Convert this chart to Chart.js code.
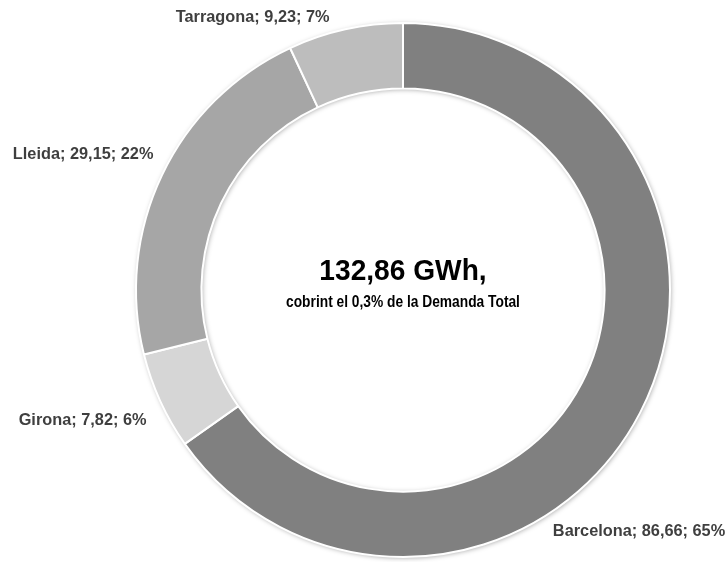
<!DOCTYPE html>
<html>
<head>
<meta charset="utf-8">
<script src="https://cdn.jsdelivr.net/npm/chart.js@4/dist/chart.umd.min.js"></script>
<style>
html,body{margin:0;padding:0;background:#fff;}
#wrap{width:728px;height:562px;position:relative;}
</style>
</head>
<body>
<div id="wrap"><canvas id="c" width="728" height="562"></canvas></div>
<script>
const categories = ["Barcelona", "Girona", "Lleida", "Tarragona"];
const values = [86.66, 7.82, 29.15, 9.23];
const percentLabels = ["65%", "6%", "22%", "7%"];
const colors = ["#808080", "#d6d6d6", "#a6a6a6", "#bdbdbd"];
const centerTitle = "132,86 GWh,";
const centerSubtitle = "cobrint el 0,3% de la Demanda Total";

const FONT = "'Liberation Sans', Arial, sans-serif";

function fmt(v){ return v.toFixed(2).replace('.', ','); }

// label anchor offsets (relative to chart center, in units of outer radius)
const labelPlacement = [
  {dx: 0.884, dy: 0.903},
  {dx: -1.200, dy: 0.489},
  {dx: -1.198, dy: -0.507},
  {dx: -0.563, dy: -1.019}
];

function drawScaled(ctx, txt, x, y, sx){
  ctx.save();
  ctx.translate(x, y);
  ctx.scale(sx, 1);
  ctx.fillText(txt, 0, 0);
  ctx.restore();
}

const labelsPlugin = {
  id: 'outLabels',
  afterDatasetsDraw(chart){
    const ctx = chart.ctx;
    const meta = chart.getDatasetMeta(0);
    const arc0 = meta.data[0];
    const cx = arc0.x, cy = arc0.y, R = arc0.outerRadius;
    ctx.save();
    ctx.font = "bold 16px " + FONT;
    ctx.fillStyle = "#3f3f3f";
    ctx.textBaseline = 'middle';
    ctx.textAlign = 'center';
    meta.data.forEach((arc, i) => {
      const p = labelPlacement[i];
      const txt = categories[i] + "; " + fmt(values[i]) + "; " + percentLabels[i];
      drawScaled(ctx, txt, cx + p.dx * R, cy + p.dy * R, 1.02);
    });
    // center text
    ctx.fillStyle = "#000";
    ctx.textBaseline = 'alphabetic';
    ctx.font = "bold 29px " + FONT;
    drawScaled(ctx, centerTitle, cx, cy - 10, 0.97);
    ctx.font = "bold 17px " + FONT;
    drawScaled(ctx, centerSubtitle, cx, cy + 17, 0.81);
    ctx.restore();
  }
};

const shadowPlugin = {
  id: 'ringShadow',
  beforeDatasetsDraw(chart){
    const ctx = chart.ctx;
    const meta = chart.getDatasetMeta(0);
    const a = meta.data[0];
    ctx.save();
    ctx.beginPath();
    ctx.arc(a.x, a.y, a.outerRadius, 0, Math.PI * 2);
    ctx.arc(a.x, a.y, a.innerRadius, 0, Math.PI * 2, true);
    ctx.shadowColor = "rgba(0,0,0,0.35)";
    ctx.shadowBlur = 5;
    ctx.shadowOffsetX = 1;
    ctx.shadowOffsetY = 1;
    ctx.fillStyle = "#ffffff";
    ctx.fill();
    ctx.restore();
  }
};

new Chart(document.getElementById('c'), {
  type: 'doughnut',
  data: {
    labels: categories,
    datasets: [{
      data: values,
      backgroundColor: colors,
      borderColor: '#ffffff',
      borderWidth: 2,
      hoverOffset: 0
    }]
  },
  options: {
    responsive: false,
    animation: false,
    cutout: '75.5%',
    layout: { padding: { left: 135, right: 57, top: 22, bottom: 4 } },
    plugins: {
      legend: { display: false },
      tooltip: { enabled: false }
    }
  },
  plugins: [shadowPlugin, labelsPlugin]
});
</script>
</body>
</html>
